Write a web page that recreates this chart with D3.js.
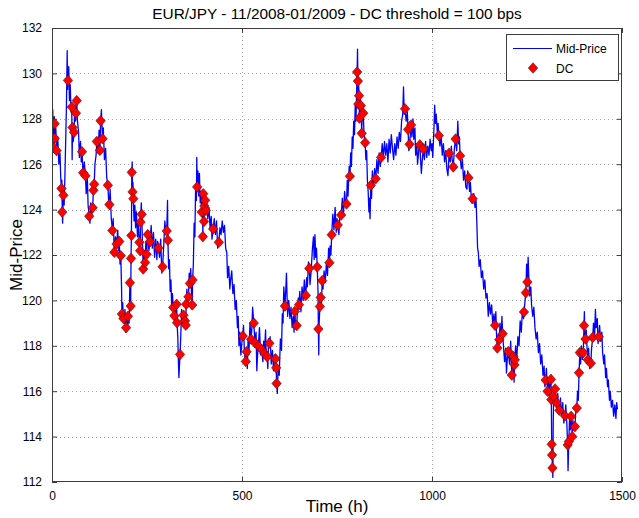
<!DOCTYPE html>
<html><head><meta charset="utf-8">
<script src="https://cdn.jsdelivr.net/npm/d3@7"></script>
<style>
body{margin:0;background:#fff}
svg{display:block}
text{font-family:"Liberation Sans",Arial,Helvetica,sans-serif;fill:#000}
</style>
</head><body>
<svg id="chart" width="639" height="518"></svg>
<script>
// ---- data (hour, price) ----
const titleText = "EUR/JPY - 11/2008-01/2009 - DC threshold = 100 bps";
const xLabel = "Time (h)";
const yLabel = "Mid-Price";
const legendLabels = ["Mid-Price", "DC"];
const xTicks = [0, 500, 1000, 1500];
const yTicks = [112, 114, 116, 118, 120, 122, 124, 126, 128, 130, 132];

const midPrice = [[0,127.0],[2,128.4],[4,126.7],[6,128.1],[7,127.8],[8,127.1],[10,127.6],[12,126.6],[15,127.2],[18,126.0],[21,126.5],[23,125.4],[25,124.9],[26,125.3],[27,123.9],[28,123.4],[29,124.2],[30,124.6],[32,124.2],[34,125.5],[36,127.0],[38,128.6],[40,131.0],[41,129.3],[42,129.7],[44,130.3],[46,128.8],[48,129.5],[50,128.3],[52,128.5],[53,126.2],[54,127.6],[56,127.0],[58,127.4],[60,128.6],[62,127.9],[63,128.25],[65,128.8],[67,127.9],[70,127.4],[72,126.3],[75,127.0],[77,126.1],[79,126.55],[81,125.8],[82,125.6],[85,126.1],[88,125.5],[90,124.7],[93,125.4],[95,124.2],[98,123.7],[100,123.4],[102,124.3],[105,123.8],[107,124.1],[109,124.85],[111,125.1],[113,126.0],[116,126.4],[118,127.0],[121,126.5],[124,127.5],[126,126.6],[128,127.9],[130,128.4],[133,127.1],[135,127.6],[138,126.2],[141,126.7],[144,125.4],[147,125.1],[149,124.4],[151,124.2],[153,124.9],[156,123.6],[159,123.1],[161,123.6],[164,122.1],[167,122.8],[170,122.5],[173,123.1],[175,122.2],[177,122.6],[179,121.6],[181,122.0],[183,120.6],[184,119.4],[186,119.9],[188,119.2],[190,119.0],[192,119.6],[194,118.6],[195,118.8],[197,119.4],[199,118.7],[200,119.3],[203,119.0],[205,120.8],[207,119.75],[208,121.85],[209,122.86],[210,125.64],[211,126.1],[212,124.78],[213,125.2],[214,124.48],[216,123.5],[218,124.2],[220,123.2],[222,123.9],[225,122.8],[227,123.4],[230,122.56],[232,122.19],[233,123.45],[235,124.3],[236,123.79],[238,122.6],[240,121.38],[242,122.2],[245,121.67],[247,122.6],[249,122.03],[250,122.4],[252,122.9],[255,122.2],[258,122.59],[261,123.3],[264,122.3],[267,123.0],[270,121.9],[273,122.7],[276,121.8],[278,122.6],[280,122.31],[283,121.9],[286,122.7],[289,121.2],[291,121.48],[294,122.4],[297,123.5],[300,122.9],[302,123.06],[304,124.4],[305,122.65],[307,121.4],[309,121.8],[311,120.4],[313,120.9],[315,119.7],[317,120.3],[319,119.69],[321,119.9],[322,119.32],[324,119.9],[326,119.1],[328,119.83],[329,119.02],[331,118.4],[333,117.1],[334,116.6],[335,117.0],[337,117.62],[339,118.5],[341,119.6],[343,119.0],[346,119.35],[348,118.8],[350,119.1],[352,118.91],[353,119.83],[355,120.5],[357,119.7],[359,120.16],[361,121.2],[363,120.75],[365,121.4],[367,120.3],[369,119.8],[370,120.9],[372,121.6],[374,123.4],[376,122.8],[378,125.1],[380,124.4],[381,126.3],[382,125.0],[384,125.7],[386,124.6],[388,125.6],[390,124.3],[392,124.8],[394,123.89],[396,124.5],[397,122.81],[398,124.7],[400,123.48],[401,124.16],[403,124.41],[405,123.96],[407,124.4],[410,123.6],[413,124.1],[416,123.2],[419,123.7],[421,122.7],[424,123.15],[427,123.6],[430,122.9],[433,123.5],[436,122.3],[439,122.56],[442,123.2],[445,122.9],[448,123.5],[451,123.0],[454,123.3],[457,122.3],[460,122.1],[462,121.0],[465,121.5],[468,120.5],[470,120.9],[473,121.3],[476,120.3],[479,120.7],[482,119.6],[485,120.0],[488,118.8],[490,119.3],[492,118.0],[494,118.6],[497,117.6],[500,118.2],[502,118.43],[504,118.9],[506,117.9],[508,117.4],[510,117.31],[512,117.74],[514,117.0],[516,118.3],[518,117.6],[521,119.0],[524,118.29],[526,118.8],[528,119.7],[531,119.0],[534,118.14],[537,118.6],[539,116.9],[541,117.6],[543,117.99],[546,118.8],[549,117.6],[552,117.84],[555,117.3],[557,118.2],[559,117.67],[562,118.7],[564,117.4],[566,117.52],[568,117.0],[570,118.3],[572,118.11],[574,118.4],[577,117.2],[580,117.8],[583,116.9],[586,117.6],[588,117.43],[590,117.03],[591,116.34],[593,115.9],[595,117.1],[598,116.7],[601,118.3],[604,117.8],[606,119.4],[608,119.0],[610,120.6],[613,119.75],[615,120.4],[617,121.2],[620,119.3],[623,120.0],[626,119.2],[629,119.7],[632,118.8],[635,119.3],[637,118.6],[639,119.51],[641,118.9],[644,118.89],[646,119.6],[648,120.1],[650,119.81],[652,120.4],[655,119.5],[658,120.6],[661,120.0],[664,120.9],[666,120.4],[668,120.22],[670,121.0],[672,120.6],[675,121.7],[677,121.41],[679,120.7],[682,121.3],[685,122.2],[688,122.8],[690,121.8],[692,122.9],[694,121.9],[696,122.3],[698,121.47],[700,120.4],[701,118.74],[702,117.6],[703,119.0],[705,119.73],[707,120.13],[709,119.8],[711,120.87],[713,120.5],[716,121.3],[719,120.8],[722,121.6],[725,121.1],[728,122.3],[730,121.66],[732,122.4],[734,122.0],[736,122.89],[739,123.8],[742,123.1],[745,124.1],[748,123.0],[750,123.6],[752,123.32],[755,122.9],[758,123.9],[761,123.76],[764,124.5],[767,123.8],[770,124.8],[773,124.2],[775,124.25],[777,125.3],[779,124.6],[782,125.9],[784,125.47],[786,126.5],[788,125.9],[790,127.2],[792,126.7],[794,127.9],[796,127.3],[798,128.6],[800,127.9],[802,129.4],[803,130.06],[804,131.07],[805,129.66],[806,128.65],[807,129.5],[808,129.02],[809,128.03],[811,128.9],[813,128.58],[815,127.36],[817,128.6],[819,128.25],[821,127.4],[824,126.95],[826,126.2],[828,126.6],[830,125.3],[832,124.8],[834,123.9],[835,124.5],[837,123.6],[839,125.07],[841,124.5],[843,125.7],[846,125.0],[849,125.8],[852,125.36],[855,126.2],[858,125.6],[861,126.5],[864,125.9],[866,126.3],[869,126.9],[872,126.3],[875,127.0],[878,126.4],[881,126.9],[884,126.1],[887,127.1],[890,126.5],[893,127.3],[896,126.7],[899,126.2],[902,126.9],[905,126.4],[908,127.2],[911,126.7],[914,127.4],[917,127.0],[920,127.9],[923,128.2],[925,129.4],[927,128.2],[929,128.44],[932,127.9],[935,128.3],[937,127.53],[939,126.6],[941,126.88],[943,127.3],[945,127.73],[947,127.2],[950,128.0],[952,127.1],[955,127.6],[957,126.4],[960,126.9],[962,126.0],[965,126.6],[968,126.85],[970,126.2],[972,125.6],[974,126.1],[977,126.67],[980,126.2],[983,127.0],[986,126.3],[989,126.8],[992,126.4],[995,127.1],[998,126.6],[1000,126.9],[1002,126.3],[1005,127.5],[1007,128.6],[1009,127.8],[1011,128.2],[1014,127.4],[1016,127.8],[1018,127.26],[1021,126.8],[1024,127.3],[1027,126.4],[1030,126.9],[1033,126.1],[1036,126.6],[1039,125.8],[1042,125.5],[1045,126.48],[1048,126.1],[1051,126.8],[1053,126.2],[1056,125.88],[1059,126.7],[1062,127.11],[1065,126.6],[1068,127.9],[1070,126.9],[1072,127.2],[1074,126.37],[1077,125.8],[1080,126.2],[1083,125.3],[1086,125.7],[1089,125.0],[1092,124.9],[1094,125.7],[1096,125.4],[1099,124.8],[1101,125.2],[1104,124.3],[1107,124.48],[1110,124.7],[1113,124.1],[1116,124.4],[1118,123.4],[1120,122.3],[1122,122.1],[1124,121.5],[1127,121.8],[1130,121.0],[1133,121.3],[1136,120.5],[1139,120.9],[1142,120.1],[1145,120.3],[1148,119.3],[1151,119.9],[1154,119.4],[1157,119.8],[1160,118.9],[1163,119.4],[1166,118.9],[1168,119.5],[1170,118.4],[1172,117.9],[1174,118.5],[1177,118.27],[1179,119.0],[1182,118.2],[1184,119.3],[1186,118.53],[1188,118.0],[1191,117.3],[1194,117.9],[1196,116.8],[1198,117.4],[1201,117.75],[1204,117.2],[1207,118.2],[1210,116.71],[1212,117.2],[1214,117.53],[1216,116.4],[1217,117.16],[1218,117.38],[1220,118.0],[1223,117.4],[1226,118.4],[1229,118.0],[1232,119.1],[1235,118.6],[1238,119.6],[1241,119.2],[1242,119.49],[1245,120.0],[1247,120.34],[1249,121.6],[1251,120.81],[1253,121.9],[1255,120.9],[1257,120.2],[1260,120.6],[1262,119.8],[1265,119.3],[1268,119.7],[1271,118.8],[1274,118.3],[1277,118.6],[1280,117.7],[1283,118.1],[1286,117.2],[1289,117.6],[1292,116.7],[1295,117.1],[1297,116.2],[1299,116.49],[1301,117.0],[1304,116.0],[1306,116.6],[1308,115.8],[1310,116.3],[1313,116.52],[1314,115.63],[1315,113.66],[1316,113.19],[1317,112.62],[1318,112.2],[1319,114.5],[1320,115.78],[1322,115.4],[1324,116.1],[1326,115.7],[1328,115.48],[1331,115.9],[1333,115.0],[1335,115.16],[1338,115.7],[1341,114.9],[1344,115.5],[1347,114.6],[1350,114.92],[1352,115.4],[1355,114.5],[1357,113.63],[1358,112.5],[1360,113.78],[1362,114.8],[1364,114.3],[1366,114.89],[1368,114.5],[1369,114.0],[1371,114.7],[1373,114.3],[1376,114.44],[1378,115.0],[1381,115.26],[1383,116.0],[1385,115.6],[1387,116.81],[1389,117.7],[1391,117.2],[1393,118.0],[1396,117.4],[1398,117.7],[1400,118.89],[1401,119.5],[1402,118.6],[1404,118.3],[1406,118.7],[1408,117.9],[1410,117.38],[1412,117.9],[1415,117.0],[1418,117.23],[1420,117.9],[1423,118.37],[1425,119.0],[1428,118.5],[1430,119.6],[1432,118.8],[1435,119.2],[1437,118.1],[1439,118.4],[1441,118.9],[1444,118.2],[1447,118.6],[1449,117.7],[1452,117.2],[1454,117.6],[1457,116.6],[1459,117.0],[1462,116.2],[1464,116.5],[1467,115.6],[1469,116.0],[1472,115.3],[1475,115.6],[1478,114.9],[1481,115.4],[1484,114.8],[1486,115.5],[1488,115.2]];

const dcEvents = [[4,126.73],[7,127.78],[7,127.14],[12,126.6],[25,124.93],[27,123.89],[30,124.63],[42,129.69],[52,128.52],[54,127.62],[58,127.41],[63,128.25],[65,128.8],[79,126.55],[82,125.62],[88,125.49],[98,123.71],[107,124.08],[109,124.85],[111,125.12],[118,127.0],[126,126.61],[128,127.91],[133,127.12],[147,125.07],[151,124.22],[159,123.08],[164,122.12],[170,122.49],[177,122.6],[181,121.97],[184,119.4],[188,119.2],[195,118.8],[200,119.3],[205,120.78],[207,119.75],[208,121.85],[209,122.86],[210,125.64],[212,124.78],[214,124.48],[230,122.56],[232,122.19],[233,123.45],[236,123.79],[240,121.38],[245,121.67],[249,122.03],[252,122.9],[258,122.59],[280,122.31],[291,121.48],[302,123.06],[305,122.65],[319,119.69],[322,119.32],[328,119.83],[329,119.02],[337,117.62],[346,119.35],[350,119.1],[352,118.91],[353,119.83],[359,120.16],[363,120.75],[369,119.8],[370,120.9],[382,125.0],[394,123.89],[397,122.81],[398,124.7],[400,123.48],[401,124.16],[403,124.41],[405,123.96],[424,123.15],[439,122.56],[502,118.43],[510,117.31],[512,117.74],[524,118.29],[531,119.0],[534,118.14],[543,117.99],[552,117.84],[559,117.67],[566,117.52],[572,118.11],[588,117.43],[590,117.03],[591,116.34],[613,119.75],[639,119.51],[644,118.89],[650,119.81],[668,120.22],[677,121.41],[698,121.47],[701,118.74],[705,119.73],[707,120.13],[711,120.87],[730,121.66],[736,122.89],[752,123.32],[761,123.76],[775,124.25],[784,125.47],[803,130.06],[805,129.66],[806,128.65],[808,129.02],[809,128.03],[813,128.58],[815,127.36],[819,128.25],[824,126.95],[839,125.07],[852,125.36],[866,126.3],[929,128.44],[937,127.53],[941,126.88],[945,127.73],[968,126.85],[977,126.67],[1018,127.26],[1045,126.48],[1056,125.88],[1062,127.11],[1074,126.37],[1096,125.4],[1107,124.48],[1166,118.9],[1172,117.9],[1177,118.27],[1186,118.53],[1201,117.75],[1210,116.71],[1214,117.53],[1217,117.16],[1218,117.38],[1242,119.49],[1247,120.34],[1251,120.81],[1299,116.49],[1304,116.0],[1313,116.52],[1314,115.63],[1315,113.66],[1316,113.19],[1317,112.62],[1320,115.78],[1324,116.1],[1328,115.48],[1335,115.16],[1350,114.92],[1357,113.63],[1360,113.78],[1366,114.89],[1369,114.0],[1376,114.44],[1381,115.26],[1387,116.81],[1389,117.7],[1398,117.7],[1400,118.89],[1404,118.3],[1410,117.38],[1418,117.23],[1423,118.37],[1439,118.4]];

// ---- layout ----
const W = 639, H = 518;
const m = {left: 52, right: 17, top: 28, bottom: 36};
const svg = d3.select("#chart");
const x = d3.scaleLinear().domain([0, 1500]).range([m.left, W - m.right]);
const y = d3.scaleLinear().domain([112, 132]).range([H - m.bottom, m.top]);
const pw = W - m.left - m.right, ph = H - m.top - m.bottom;
const axisColor = "#3c3c3c";
const tickLen = 5;

svg.append("rect").attr("width", W).attr("height", H).attr("fill", "#fff");

// grid
const grid = svg.append("g").attr("stroke", "#a8a8a8").attr("stroke-width", 1).attr("stroke-dasharray", "1,3");
grid.selectAll(".gx").data(xTicks.slice(1, -1)).join("line")
  .attr("x1", d => Math.round(x(d)) + 0.5).attr("x2", d => Math.round(x(d)) + 0.5)
  .attr("y1", m.top).attr("y2", H - m.bottom);
grid.selectAll(".gy").data(yTicks.slice(1, -1)).join("line")
  .attr("y1", d => Math.round(y(d)) + 0.5).attr("y2", d => Math.round(y(d)) + 0.5)
  .attr("x1", m.left).attr("x2", W - m.right);

// clip
svg.append("defs").append("clipPath").attr("id", "clip")
  .append("rect").attr("x", m.left).attr("y", m.top).attr("width", pw).attr("height", ph);

const plot = svg.append("g").attr("clip-path", "url(#clip)");
const line = d3.line().x(d => x(d[0])).y(d => y(d[1]));
plot.append("path").datum(midPrice).attr("d", line)
  .attr("fill", "none").attr("stroke", "#0000ff").attr("stroke-width", 1.3).attr("stroke-linejoin", "round");

const diamond = "M0,-5.3L4.7,0L0,5.3L-4.7,0Z";
plot.selectAll(".dc").data(dcEvents).join("path")
  .attr("d", diamond)
  .attr("transform", d => `translate(${x(d[0])},${y(d[1])})`)
  .attr("fill", "#ff0000").attr("stroke", "#5a1010").attr("stroke-width", 0.6);

// axes box + inward ticks (all four sides)
const xAxisB = d3.axisBottom(x).tickValues(xTicks).tickSize(-tickLen).tickPadding(9).tickFormat(d3.format("d"));
const xAxisT = d3.axisTop(x).tickValues(xTicks).tickSize(-tickLen).tickFormat("");
const yAxisL = d3.axisLeft(y).tickValues(yTicks).tickSize(-tickLen).tickPadding(10).tickFormat(d3.format("d"));
const yAxisR = d3.axisRight(y).tickValues(yTicks).tickSize(-tickLen).tickFormat("");

function styleAxis(g) {
  g.select(".domain").remove();
  g.selectAll(".tick line").attr("stroke", axisColor);
  g.selectAll(".tick text").attr("font-size", 12).attr("fill", "#000")
    .style("font-family", '"Liberation Sans",Arial,Helvetica,sans-serif');
}
svg.append("g").attr("transform", `translate(0,${H - m.bottom})`).call(xAxisB).call(styleAxis);
svg.append("g").attr("transform", `translate(0,${m.top})`).call(xAxisT).call(styleAxis);
svg.append("g").attr("transform", `translate(${m.left},0)`).call(yAxisL).call(styleAxis);
svg.append("g").attr("transform", `translate(${W - m.right},0)`).call(yAxisR).call(styleAxis);

svg.append("rect").attr("x", m.left + 0.5).attr("y", m.top + 0.5).attr("width", pw - 1).attr("height", ph - 1)
  .attr("fill", "none").attr("stroke", axisColor).attr("stroke-width", 1);

// titles
svg.append("text").attr("x", m.left + pw / 2).attr("y", 19).attr("text-anchor", "middle")
  .attr("font-size", 15.4).text(titleText);
svg.append("text").attr("x", m.left + pw / 2).attr("y", 512).attr("text-anchor", "middle")
  .attr("font-size", 17).text(xLabel);
svg.append("text").attr("transform", `translate(22,${m.top + ph / 2}) rotate(-90)`).attr("text-anchor", "middle")
  .attr("font-size", 17).text(yLabel);

// legend
const lg = svg.append("g");
lg.append("rect").attr("x", 506.5).attr("y", 34.5).attr("width", 112).attr("height", 46)
  .attr("fill", "#fff").attr("stroke", axisColor).attr("stroke-width", 1);
lg.append("line").attr("x1", 513).attr("x2", 552).attr("y1", 48.5).attr("y2", 48.5)
  .attr("stroke", "#0000ff").attr("stroke-width", 1);
lg.append("text").attr("x", 556).attr("y", 52.5).attr("font-size", 12).text(legendLabels[0]);
lg.append("path").attr("d", diamond).attr("transform", "translate(533,68)")
  .attr("fill", "#ff0000").attr("stroke", "#5a1010").attr("stroke-width", 0.6);
lg.append("text").attr("x", 556).attr("y", 72.5).attr("font-size", 12).text(legendLabels[1]);
</script>
</body></html>
